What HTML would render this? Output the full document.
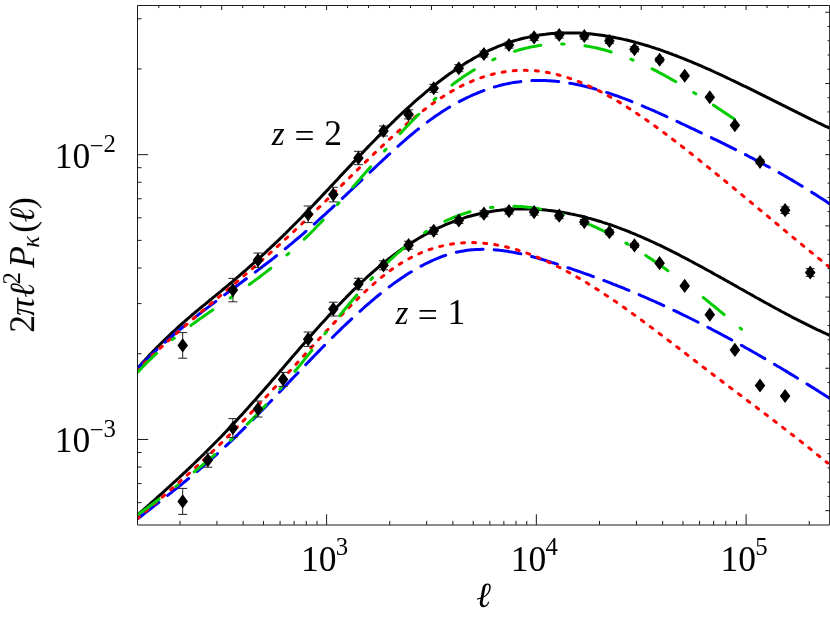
<!DOCTYPE html>
<html><head><meta charset="utf-8"><title>Convergence power spectrum</title>
<style>html,body{margin:0;padding:0;background:#fff;}svg{display:block;}</style>
</head><body>
<svg width="830" height="623" viewBox="0 0 830 623" role="img" aria-label="Convergence power spectrum 2 pi l^2 P_kappa(l) versus l for z = 1 and z = 2">
<rect width="830" height="623" fill="#fff"/>
<defs><clipPath id="c"><rect x="137.5" y="5.5" width="693.15" height="519.4"/></clipPath></defs>
<g clip-path="url(#c)">
<path d="M137.6,368.3 L139.6,366.1 L141.6,363.8 L143.6,361.6 L145.6,359.4 L147.6,357.3 L149.6,355.1 L151.6,353.0 L153.6,350.9 L155.6,348.9 L157.6,346.8 L159.6,344.8 L161.6,342.8 L163.6,340.9 L165.6,338.9 L167.6,337.0 L169.6,335.1 L171.6,333.2 L173.6,331.3 L175.6,329.5 L177.6,327.6 L179.6,325.8 L181.6,324.0 L183.6,322.3 L185.6,320.5 L187.6,318.8 L189.6,317.1 L191.6,315.4 L193.6,313.7 L195.6,312.0 L197.6,310.4 L199.6,308.7 L201.6,307.0 L203.6,305.4 L205.6,303.8 L207.6,302.1 L209.6,300.5 L211.6,298.9 L213.6,297.2 L215.6,295.6 L217.6,293.9 L219.6,292.3 L221.6,290.7 L223.6,289.0 L225.6,287.3 L227.6,285.7 L229.6,284.0 L231.6,282.3 L233.6,280.6 L235.6,278.9 L237.6,277.2 L239.6,275.5 L241.6,273.7 L243.6,272.0 L245.6,270.3 L247.6,268.5 L249.6,266.7 L251.6,265.0 L253.6,263.2 L255.6,261.4 L257.6,259.6 L259.6,257.8 L261.6,256.0 L263.6,254.1 L265.6,252.3 L267.6,250.4 L269.6,248.6 L271.6,246.7 L273.6,244.8 L275.6,242.9 L277.6,241.0 L279.6,239.1 L281.6,237.2 L283.6,235.2 L285.6,233.3 L287.6,231.3 L289.6,229.3 L291.6,227.3 L293.6,225.3 L295.6,223.3 L297.6,221.3 L299.6,219.2 L301.6,217.2 L303.6,215.1 L305.6,213.0 L307.6,211.0 L309.6,208.9 L311.6,206.8 L313.6,204.7 L315.6,202.6 L317.6,200.5 L319.6,198.4 L321.6,196.2 L323.6,194.1 L325.6,192.0 L327.6,189.9 L329.6,187.7 L331.6,185.6 L333.6,183.5 L335.6,181.3 L337.6,179.2 L339.6,177.0 L341.6,174.9 L343.6,172.8 L345.6,170.6 L347.6,168.5 L349.6,166.4 L351.6,164.2 L353.6,162.1 L355.6,160.0 L357.6,157.9 L359.6,155.8 L361.6,153.7 L363.6,151.6 L365.6,149.5 L367.6,147.4 L369.6,145.3 L371.6,143.3 L373.6,141.2 L375.6,139.2 L377.6,137.1 L379.6,135.1 L381.6,133.1 L383.6,131.1 L385.6,129.1 L387.6,127.1 L389.6,125.2 L391.6,123.2 L393.6,121.3 L395.6,119.3 L397.6,117.4 L399.6,115.5 L401.6,113.7 L403.6,111.8 L405.6,109.9 L407.6,108.1 L409.6,106.3 L411.6,104.5 L413.6,102.7 L415.6,100.9 L417.6,99.2 L419.6,97.5 L421.6,95.8 L423.6,94.1 L425.6,92.4 L427.6,90.7 L429.6,89.1 L431.6,87.5 L433.6,85.9 L435.6,84.3 L437.6,82.7 L439.6,81.2 L441.6,79.7 L443.6,78.2 L445.6,76.7 L447.6,75.2 L449.6,73.8 L451.6,72.4 L453.6,71.0 L455.6,69.6 L457.6,68.3 L459.6,67.0 L461.6,65.7 L463.6,64.4 L465.6,63.1 L467.6,61.9 L469.6,60.7 L471.6,59.6 L473.6,58.4 L475.6,57.3 L477.6,56.2 L479.6,55.1 L481.6,54.1 L483.6,53.1 L485.6,52.1 L487.6,51.1 L489.6,50.2 L491.6,49.3 L493.6,48.4 L495.6,47.6 L497.6,46.7 L499.6,45.9 L501.6,45.2 L503.6,44.4 L505.6,43.7 L507.6,43.0 L509.6,42.3 L511.6,41.7 L513.6,41.0 L515.6,40.4 L517.6,39.9 L519.6,39.3 L521.6,38.8 L523.6,38.3 L525.6,37.8 L527.6,37.4 L529.6,36.9 L531.6,36.5 L533.6,36.1 L535.6,35.8 L537.6,35.4 L539.6,35.1 L541.6,34.8 L543.6,34.5 L545.6,34.3 L547.6,34.0 L549.6,33.8 L551.6,33.6 L553.6,33.5 L555.6,33.3 L557.6,33.2 L559.6,33.1 L561.6,33.0 L563.6,32.9 L565.6,32.9 L567.6,32.9 L569.6,32.9 L571.6,32.9 L573.6,32.9 L575.6,33.0 L577.6,33.0 L579.6,33.1 L581.6,33.2 L583.6,33.3 L585.6,33.5 L587.6,33.7 L589.6,33.8 L591.6,34.0 L593.6,34.2 L595.6,34.5 L597.6,34.7 L599.6,35.0 L601.6,35.3 L603.6,35.6 L605.6,35.9 L607.6,36.2 L609.6,36.5 L611.6,36.9 L613.6,37.3 L615.6,37.7 L617.6,38.1 L619.6,38.5 L621.6,38.9 L623.6,39.4 L625.6,39.8 L627.6,40.3 L629.6,40.8 L631.6,41.3 L633.6,41.8 L635.6,42.4 L637.6,42.9 L639.6,43.5 L641.6,44.0 L643.6,44.6 L645.6,45.2 L647.6,45.8 L649.6,46.4 L651.6,47.1 L653.6,47.7 L655.6,48.4 L657.6,49.0 L659.6,49.7 L661.6,50.4 L663.6,51.1 L665.6,51.8 L667.6,52.5 L669.6,53.3 L671.6,54.0 L673.6,54.8 L675.6,55.5 L677.6,56.3 L679.6,57.1 L681.6,57.9 L683.6,58.7 L685.6,59.5 L687.6,60.3 L689.6,61.1 L691.6,61.9 L693.6,62.8 L695.6,63.6 L697.6,64.5 L699.6,65.3 L701.6,66.2 L703.6,67.1 L705.6,68.0 L707.6,68.8 L709.6,69.7 L711.6,70.6 L713.6,71.5 L715.6,72.5 L717.6,73.4 L719.6,74.3 L721.6,75.2 L723.6,76.2 L725.6,77.1 L727.6,78.1 L729.6,79.0 L731.6,80.0 L733.6,80.9 L735.6,81.9 L737.6,82.8 L739.6,83.8 L741.6,84.8 L743.6,85.8 L745.6,86.7 L747.6,87.7 L749.6,88.7 L751.6,89.7 L753.6,90.7 L755.6,91.7 L757.6,92.7 L759.6,93.7 L761.6,94.7 L763.6,95.7 L765.6,96.7 L767.6,97.7 L769.6,98.7 L771.6,99.7 L773.6,100.7 L775.6,101.7 L777.6,102.7 L779.6,103.7 L781.6,104.7 L783.6,105.7 L785.6,106.7 L787.6,107.7 L789.6,108.7 L791.6,109.7 L793.6,110.7 L795.6,111.7 L797.6,112.7 L799.6,113.7 L801.6,114.7 L803.6,115.6 L805.6,116.6 L807.6,117.6 L809.6,118.6 L811.6,119.6 L813.6,120.5 L815.6,121.5 L817.6,122.5 L819.6,123.4 L821.6,124.4 L823.6,125.4 L825.6,126.3 L827.6,127.2 L829.5,128.1" fill="none" stroke="#000" stroke-width="3" stroke-linejoin="round"/>
<path d="M137.6,514.8 L139.6,513.1 L141.6,511.3 L143.6,509.6 L145.6,507.8 L147.6,506.1 L149.6,504.3 L151.6,502.5 L153.6,500.8 L155.6,499.0 L157.6,497.2 L159.6,495.4 L161.6,493.6 L163.6,491.8 L165.6,490.0 L167.6,488.2 L169.6,486.4 L171.6,484.5 L173.6,482.7 L175.6,480.9 L177.6,479.0 L179.6,477.2 L181.6,475.3 L183.6,473.4 L185.6,471.6 L187.6,469.7 L189.6,467.8 L191.6,465.9 L193.6,464.0 L195.6,462.0 L197.6,460.1 L199.6,458.2 L201.6,456.2 L203.6,454.3 L205.6,452.3 L207.6,450.3 L209.6,448.3 L211.6,446.3 L213.6,444.3 L215.6,442.3 L217.6,440.3 L219.6,438.2 L221.6,436.2 L223.6,434.1 L225.6,432.0 L227.6,429.9 L229.6,427.8 L231.6,425.7 L233.6,423.6 L235.6,421.4 L237.6,419.3 L239.6,417.1 L241.6,414.9 L243.6,412.7 L245.6,410.5 L247.6,408.3 L249.6,406.1 L251.6,403.8 L253.6,401.6 L255.6,399.4 L257.6,397.1 L259.6,394.8 L261.6,392.6 L263.6,390.3 L265.6,388.0 L267.6,385.7 L269.6,383.4 L271.6,381.1 L273.6,378.8 L275.6,376.5 L277.6,374.1 L279.6,371.8 L281.6,369.5 L283.6,367.2 L285.6,364.8 L287.6,362.5 L289.6,360.2 L291.6,357.8 L293.6,355.5 L295.6,353.2 L297.6,350.9 L299.6,348.6 L301.6,346.3 L303.6,344.0 L305.6,341.7 L307.6,339.4 L309.6,337.1 L311.6,334.8 L313.6,332.5 L315.6,330.3 L317.6,328.0 L319.6,325.8 L321.6,323.6 L323.6,321.4 L325.6,319.2 L327.6,317.0 L329.6,314.8 L331.6,312.7 L333.6,310.5 L335.6,308.4 L337.6,306.3 L339.6,304.2 L341.6,302.1 L343.6,300.0 L345.6,298.0 L347.6,295.9 L349.6,293.9 L351.6,291.9 L353.6,289.9 L355.6,288.0 L357.6,286.0 L359.6,284.1 L361.6,282.2 L363.6,280.4 L365.6,278.5 L367.6,276.7 L369.6,274.9 L371.6,273.1 L373.6,271.3 L375.6,269.6 L377.6,267.9 L379.6,266.2 L381.6,264.5 L383.6,262.9 L385.6,261.2 L387.6,259.7 L389.6,258.1 L391.6,256.6 L393.6,255.1 L395.6,253.6 L397.6,252.1 L399.6,250.7 L401.6,249.3 L403.6,247.9 L405.6,246.6 L407.6,245.2 L409.6,243.9 L411.6,242.7 L413.6,241.4 L415.6,240.2 L417.6,239.0 L419.6,237.8 L421.6,236.6 L423.6,235.5 L425.6,234.4 L427.6,233.3 L429.6,232.3 L431.6,231.3 L433.6,230.3 L435.6,229.3 L437.6,228.3 L439.6,227.4 L441.6,226.5 L443.6,225.6 L445.6,224.7 L447.6,223.9 L449.6,223.1 L451.6,222.3 L453.6,221.5 L455.6,220.8 L457.6,220.1 L459.6,219.4 L461.6,218.7 L463.6,218.1 L465.6,217.4 L467.6,216.8 L469.6,216.3 L471.6,215.7 L473.6,215.2 L475.6,214.7 L477.6,214.2 L479.6,213.7 L481.6,213.3 L483.6,212.9 L485.6,212.5 L487.6,212.1 L489.6,211.7 L491.6,211.4 L493.6,211.1 L495.6,210.8 L497.6,210.5 L499.6,210.3 L501.6,210.0 L503.6,209.8 L505.6,209.7 L507.6,209.5 L509.6,209.3 L511.6,209.2 L513.6,209.1 L515.6,209.0 L517.6,209.0 L519.6,208.9 L521.6,208.9 L523.6,208.9 L525.6,208.9 L527.6,208.9 L529.6,209.0 L531.6,209.1 L533.6,209.1 L535.6,209.2 L537.6,209.4 L539.6,209.5 L541.6,209.7 L543.6,209.8 L545.6,210.0 L547.6,210.3 L549.6,210.5 L551.6,210.7 L553.6,211.0 L555.6,211.3 L557.6,211.6 L559.6,211.9 L561.6,212.2 L563.6,212.5 L565.6,212.9 L567.6,213.3 L569.6,213.7 L571.6,214.1 L573.6,214.5 L575.6,214.9 L577.6,215.4 L579.6,215.8 L581.6,216.3 L583.6,216.8 L585.6,217.3 L587.6,217.9 L589.6,218.4 L591.6,219.0 L593.6,219.5 L595.6,220.1 L597.6,220.7 L599.6,221.3 L601.6,221.9 L603.6,222.6 L605.6,223.2 L607.6,223.9 L609.6,224.5 L611.6,225.2 L613.6,225.9 L615.6,226.6 L617.6,227.4 L619.6,228.1 L621.6,228.9 L623.6,229.6 L625.6,230.4 L627.6,231.2 L629.6,232.0 L631.6,232.8 L633.6,233.6 L635.6,234.4 L637.6,235.3 L639.6,236.1 L641.6,237.0 L643.6,237.9 L645.6,238.8 L647.6,239.7 L649.6,240.6 L651.6,241.5 L653.6,242.4 L655.6,243.3 L657.6,244.3 L659.6,245.2 L661.6,246.2 L663.6,247.2 L665.6,248.2 L667.6,249.1 L669.6,250.1 L671.6,251.1 L673.6,252.2 L675.6,253.2 L677.6,254.2 L679.6,255.2 L681.6,256.3 L683.6,257.3 L685.6,258.4 L687.6,259.4 L689.6,260.5 L691.6,261.5 L693.6,262.6 L695.6,263.7 L697.6,264.8 L699.6,265.9 L701.6,266.9 L703.6,268.0 L705.6,269.1 L707.6,270.2 L709.6,271.3 L711.6,272.4 L713.6,273.6 L715.6,274.7 L717.6,275.8 L719.6,276.9 L721.6,278.0 L723.6,279.1 L725.6,280.3 L727.6,281.4 L729.6,282.5 L731.6,283.6 L733.6,284.8 L735.6,285.9 L737.6,287.0 L739.6,288.2 L741.6,289.3 L743.6,290.4 L745.6,291.5 L747.6,292.7 L749.6,293.8 L751.6,294.9 L753.6,296.0 L755.6,297.2 L757.6,298.3 L759.6,299.4 L761.6,300.5 L763.6,301.6 L765.6,302.7 L767.6,303.8 L769.6,304.9 L771.6,306.0 L773.6,307.1 L775.6,308.2 L777.6,309.3 L779.6,310.4 L781.6,311.5 L783.6,312.5 L785.6,313.6 L787.6,314.7 L789.6,315.7 L791.6,316.8 L793.6,317.8 L795.6,318.8 L797.6,319.9 L799.6,320.9 L801.6,321.9 L803.6,322.9 L805.6,323.9 L807.6,324.9 L809.6,325.9 L811.6,326.9 L813.6,327.9 L815.6,328.8 L817.6,329.8 L819.6,330.7 L821.6,331.7 L823.6,332.6 L825.6,333.5 L827.6,334.4 L829.5,335.3" fill="none" stroke="#000" stroke-width="3" stroke-linejoin="round"/>
<path d="M137.6,368.5 L139.6,366.5 L141.6,364.4 L143.6,362.4 L145.6,360.5 L147.6,358.5 L149.6,356.6 L151.6,354.6 L153.6,352.8 L155.6,350.9 L157.6,349.0 L159.6,347.2 L161.6,345.4 L163.6,343.6 L165.6,341.8 L167.6,340.0 L169.6,338.3 L171.6,336.6 L173.6,334.8 L175.6,333.1 L177.6,331.5 L179.6,329.8 L181.6,328.1 L183.6,326.5 L185.6,324.9 L187.6,323.2 L189.6,321.6 L191.6,320.0 L193.6,318.4 L195.6,316.9 L197.6,315.3 L199.6,313.7 L201.6,312.2 L203.6,310.6 L205.6,309.1 L207.6,307.6 L209.6,306.1 L211.6,304.6 L213.6,303.1 L215.6,301.6 L217.6,300.1 L219.6,298.6 L221.6,297.1 L223.6,295.6 L225.6,294.1 L227.6,292.6 L229.6,291.1 L231.6,289.7 L233.6,288.2 L235.6,286.7 L237.6,285.2 L239.6,283.8 L241.6,282.3 L243.6,280.8 L245.6,279.3 L247.6,277.8 L249.6,276.4 L251.6,274.9 L253.6,273.4 L255.6,271.9 L257.6,270.4 L259.6,268.9 L261.6,267.3 L263.6,265.8 L265.6,264.3 L267.6,262.8 L269.6,261.2 L271.6,259.7 L273.6,258.1 L275.6,256.5 L277.6,254.9 L279.6,253.4 L281.6,251.8 L283.6,250.1 L285.6,248.5 L287.6,246.9 L289.6,245.2 L291.6,243.6 L293.6,241.9 L295.6,240.2 L297.6,238.5 L299.6,236.8 L301.6,235.1 L303.6,233.4 L305.6,231.6 L307.6,229.9 L309.6,228.1 L311.6,226.3 L313.6,224.6 L315.6,222.8 L317.6,221.0 L319.6,219.2 L321.6,217.4 L323.6,215.6 L325.6,213.8 L327.6,211.9 L329.6,210.1 L331.6,208.3 L333.6,206.4 L335.6,204.6 L337.6,202.7 L339.6,200.9 L341.6,199.0 L343.6,197.1 L345.6,195.3 L347.6,193.4 L349.6,191.5 L351.6,189.6 L353.6,187.7 L355.6,185.8 L357.6,184.0 L359.6,182.1 L361.6,180.2 L363.6,178.3 L365.6,176.4 L367.6,174.5 L369.6,172.6 L371.6,170.7 L373.6,168.8 L375.6,166.9 L377.6,165.0 L379.6,163.2 L381.6,161.3 L383.6,159.4 L385.6,157.6 L387.6,155.7 L389.6,153.9 L391.6,152.1 L393.6,150.2 L395.6,148.4 L397.6,146.6 L399.6,144.9 L401.6,143.1 L403.6,141.3 L405.6,139.6 L407.6,137.9 L409.6,136.2 L411.6,134.5 L413.6,132.9 L415.6,131.2 L417.6,129.6 L419.6,128.0 L421.6,126.4 L423.6,124.9 L425.6,123.4 L427.6,121.9 L429.6,120.4 L431.6,118.9 L433.6,117.5 L435.6,116.1 L437.6,114.8 L439.6,113.4 L441.6,112.1 L443.6,110.8 L445.6,109.5 L447.6,108.3 L449.6,107.1 L451.6,105.9 L453.6,104.8 L455.6,103.6 L457.6,102.5 L459.6,101.4 L461.6,100.4 L463.6,99.4 L465.6,98.4 L467.6,97.4 L469.6,96.5 L471.6,95.5 L473.6,94.7 L475.6,93.8 L477.6,93.0 L479.6,92.2 L481.6,91.4 L483.6,90.6 L485.6,89.9 L487.6,89.2 L489.6,88.5 L491.6,87.9 L493.6,87.2 L495.6,86.6 L497.6,86.1 L499.6,85.5 L501.6,85.0 L503.6,84.5 L505.6,84.1 L507.6,83.7 L509.6,83.3 L511.6,82.9 L513.6,82.5 L515.6,82.2 L517.6,81.9 L519.6,81.7 L521.6,81.4 L523.6,81.2 L525.6,81.0 L527.6,80.9 L529.6,80.7 L531.6,80.6 L533.6,80.6 L535.6,80.5 L537.6,80.5 L539.6,80.5 L541.6,80.5 L543.6,80.5 L545.6,80.6 L547.6,80.7 L549.6,80.8 L551.6,81.0 L553.6,81.1 L555.6,81.3 L557.6,81.5 L559.6,81.7 L561.6,82.0 L563.6,82.2 L565.6,82.5 L567.6,82.8 L569.6,83.2 L571.6,83.5 L573.6,83.9 L575.6,84.3 L577.6,84.7 L579.6,85.1 L581.6,85.5 L583.6,86.0 L585.6,86.5 L587.6,87.0 L589.6,87.5 L591.6,88.0 L593.6,88.5 L595.6,89.1 L597.6,89.7 L599.6,90.3 L601.6,90.9 L603.6,91.5 L605.6,92.1 L607.6,92.8 L609.6,93.4 L611.6,94.1 L613.6,94.8 L615.6,95.5 L617.6,96.2 L619.6,96.9 L621.6,97.7 L623.6,98.4 L625.6,99.2 L627.6,99.9 L629.6,100.7 L631.6,101.5 L633.6,102.3 L635.6,103.1 L637.6,103.9 L639.6,104.8 L641.6,105.6 L643.6,106.4 L645.6,107.3 L647.6,108.1 L649.6,109.0 L651.6,109.9 L653.6,110.7 L655.6,111.6 L657.6,112.5 L659.6,113.4 L661.6,114.3 L663.6,115.2 L665.6,116.1 L667.6,117.1 L669.6,118.0 L671.6,118.9 L673.6,119.8 L675.6,120.8 L677.6,121.7 L679.6,122.6 L681.6,123.6 L683.6,124.5 L685.6,125.4 L687.6,126.4 L689.6,127.3 L691.6,128.3 L693.6,129.2 L695.6,130.2 L697.6,131.1 L699.6,132.1 L701.6,133.0 L703.6,134.0 L705.6,134.9 L707.6,135.9 L709.6,136.8 L711.6,137.8 L713.6,138.8 L715.6,139.7 L717.6,140.7 L719.6,141.7 L721.6,142.7 L723.6,143.6 L725.6,144.6 L727.6,145.6 L729.6,146.6 L731.6,147.6 L733.6,148.6 L735.6,149.6 L737.6,150.6 L739.6,151.6 L741.6,152.6 L743.6,153.7 L745.6,154.7 L747.6,155.7 L749.6,156.8 L751.6,157.8 L753.6,158.9 L755.6,159.9 L757.6,161.0 L759.6,162.0 L761.6,163.1 L763.6,164.2 L765.6,165.3 L767.6,166.3 L769.6,167.4 L771.6,168.5 L773.6,169.6 L775.6,170.8 L777.6,171.9 L779.6,173.0 L781.6,174.1 L783.6,175.3 L785.6,176.4 L787.6,177.6 L789.6,178.8 L791.6,179.9 L793.6,181.1 L795.6,182.3 L797.6,183.5 L799.6,184.7 L801.6,185.9 L803.6,187.1 L805.6,188.4 L807.6,189.6 L809.6,190.8 L811.6,192.1 L813.6,193.4 L815.6,194.6 L817.6,195.9 L819.6,197.2 L821.6,198.5 L823.6,199.8 L825.6,201.1 L827.6,202.5 L829.5,203.7" fill="none" stroke="#0000ff" stroke-width="3" stroke-linejoin="round" stroke-dasharray="27 11.07" stroke-linecap="round"/>
<path d="M137.6,518.8 L139.6,517.2 L141.6,515.7 L143.6,514.2 L145.6,512.6 L147.6,511.1 L149.6,509.5 L151.6,508.0 L153.6,506.4 L155.6,504.9 L157.6,503.3 L159.6,501.8 L161.6,500.2 L163.6,498.6 L165.6,497.1 L167.6,495.5 L169.6,493.9 L171.6,492.3 L173.6,490.7 L175.6,489.1 L177.6,487.5 L179.6,485.9 L181.6,484.3 L183.6,482.7 L185.6,481.0 L187.6,479.4 L189.6,477.8 L191.6,476.1 L193.6,474.4 L195.6,472.8 L197.6,471.1 L199.6,469.4 L201.6,467.7 L203.6,465.9 L205.6,464.2 L207.6,462.5 L209.6,460.7 L211.6,459.0 L213.6,457.2 L215.6,455.4 L217.6,453.6 L219.6,451.8 L221.6,449.9 L223.6,448.1 L225.6,446.2 L227.6,444.4 L229.6,442.5 L231.6,440.6 L233.6,438.7 L235.6,436.7 L237.6,434.8 L239.6,432.8 L241.6,430.9 L243.6,428.9 L245.6,426.9 L247.6,424.9 L249.6,422.9 L251.6,420.9 L253.6,418.9 L255.6,416.9 L257.6,414.8 L259.6,412.8 L261.6,410.7 L263.6,408.7 L265.6,406.6 L267.6,404.5 L269.6,402.5 L271.6,400.4 L273.6,398.3 L275.6,396.2 L277.6,394.1 L279.6,392.0 L281.6,389.9 L283.6,387.8 L285.6,385.7 L287.6,383.6 L289.6,381.5 L291.6,379.4 L293.6,377.3 L295.6,375.2 L297.6,373.2 L299.6,371.1 L301.6,369.0 L303.6,366.9 L305.6,364.8 L307.6,362.7 L309.6,360.6 L311.6,358.6 L313.6,356.5 L315.6,354.5 L317.6,352.4 L319.6,350.4 L321.6,348.3 L323.6,346.3 L325.6,344.3 L327.6,342.2 L329.6,340.2 L331.6,338.2 L333.6,336.3 L335.6,334.3 L337.6,332.3 L339.6,330.4 L341.6,328.4 L343.6,326.5 L345.6,324.6 L347.6,322.7 L349.6,320.8 L351.6,318.9 L353.6,317.1 L355.6,315.2 L357.6,313.4 L359.6,311.6 L361.6,309.8 L363.6,308.0 L365.6,306.2 L367.6,304.5 L369.6,302.8 L371.6,301.0 L373.6,299.4 L375.6,297.7 L377.6,296.0 L379.6,294.4 L381.6,292.8 L383.6,291.2 L385.6,289.7 L387.6,288.1 L389.6,286.6 L391.6,285.1 L393.6,283.6 L395.6,282.2 L397.6,280.8 L399.6,279.4 L401.6,278.0 L403.6,276.7 L405.6,275.3 L407.6,274.1 L409.6,272.8 L411.6,271.6 L413.6,270.4 L415.6,269.2 L417.6,268.0 L419.6,266.9 L421.6,265.8 L423.6,264.8 L425.6,263.7 L427.6,262.8 L429.6,261.8 L431.6,260.9 L433.6,260.0 L435.6,259.1 L437.6,258.3 L439.6,257.5 L441.6,256.7 L443.6,256.0 L445.6,255.3 L447.6,254.7 L449.6,254.1 L451.6,253.5 L453.6,253.0 L455.6,252.5 L457.6,252.0 L459.6,251.6 L461.6,251.2 L463.6,250.9 L465.6,250.6 L467.6,250.3 L469.6,250.0 L471.6,249.8 L473.6,249.7 L475.6,249.5 L477.6,249.4 L479.6,249.4 L481.6,249.3 L483.6,249.3 L485.6,249.3 L487.6,249.4 L489.6,249.5 L491.6,249.6 L493.6,249.7 L495.6,249.9 L497.6,250.0 L499.6,250.3 L501.6,250.5 L503.6,250.8 L505.6,251.0 L507.6,251.3 L509.6,251.7 L511.6,252.0 L513.6,252.4 L515.6,252.8 L517.6,253.2 L519.6,253.6 L521.6,254.0 L523.6,254.5 L525.6,255.0 L527.6,255.5 L529.6,256.0 L531.6,256.5 L533.6,257.0 L535.6,257.6 L537.6,258.1 L539.6,258.7 L541.6,259.3 L543.6,259.9 L545.6,260.5 L547.6,261.1 L549.6,261.7 L551.6,262.4 L553.6,263.0 L555.6,263.6 L557.6,264.3 L559.6,264.9 L561.6,265.6 L563.6,266.2 L565.6,266.9 L567.6,267.6 L569.6,268.2 L571.6,268.9 L573.6,269.6 L575.6,270.3 L577.6,271.0 L579.6,271.7 L581.6,272.4 L583.6,273.1 L585.6,273.8 L587.6,274.5 L589.6,275.2 L591.6,276.0 L593.6,276.7 L595.6,277.4 L597.6,278.2 L599.6,278.9 L601.6,279.6 L603.6,280.4 L605.6,281.2 L607.6,281.9 L609.6,282.7 L611.6,283.5 L613.6,284.3 L615.6,285.0 L617.6,285.8 L619.6,286.6 L621.6,287.4 L623.6,288.2 L625.6,289.1 L627.6,289.9 L629.6,290.7 L631.6,291.5 L633.6,292.4 L635.6,293.2 L637.6,294.0 L639.6,294.9 L641.6,295.8 L643.6,296.6 L645.6,297.5 L647.6,298.4 L649.6,299.3 L651.6,300.1 L653.6,301.0 L655.6,301.9 L657.6,302.8 L659.6,303.7 L661.6,304.7 L663.6,305.6 L665.6,306.5 L667.6,307.4 L669.6,308.4 L671.6,309.3 L673.6,310.3 L675.6,311.2 L677.6,312.2 L679.6,313.1 L681.6,314.1 L683.6,315.1 L685.6,316.0 L687.6,317.0 L689.6,318.0 L691.6,319.0 L693.6,320.0 L695.6,321.0 L697.6,322.0 L699.6,323.0 L701.6,324.1 L703.6,325.1 L705.6,326.1 L707.6,327.1 L709.6,328.2 L711.6,329.2 L713.6,330.3 L715.6,331.3 L717.6,332.4 L719.6,333.4 L721.6,334.5 L723.6,335.6 L725.6,336.7 L727.6,337.7 L729.6,338.8 L731.6,339.9 L733.6,341.0 L735.6,342.1 L737.6,343.2 L739.6,344.3 L741.6,345.4 L743.6,346.5 L745.6,347.7 L747.6,348.8 L749.6,349.9 L751.6,351.0 L753.6,352.2 L755.6,353.3 L757.6,354.5 L759.6,355.6 L761.6,356.8 L763.6,357.9 L765.6,359.1 L767.6,360.3 L769.6,361.4 L771.6,362.6 L773.6,363.8 L775.6,365.0 L777.6,366.2 L779.6,367.3 L781.6,368.5 L783.6,369.7 L785.6,370.9 L787.6,372.1 L789.6,373.4 L791.6,374.6 L793.6,375.8 L795.6,377.0 L797.6,378.2 L799.6,379.4 L801.6,380.7 L803.6,381.9 L805.6,383.2 L807.6,384.4 L809.6,385.6 L811.6,386.9 L813.6,388.1 L815.6,389.4 L817.6,390.6 L819.6,391.9 L821.6,393.2 L823.6,394.4 L825.6,395.7 L827.6,397.0 L829.5,398.2" fill="none" stroke="#0000ff" stroke-width="3" stroke-linejoin="round" stroke-dasharray="27 11.07" stroke-linecap="round"/>
<path d="M137.6,369.9 L139.6,367.9 L141.6,365.9 L143.6,364.0 L145.6,362.0 L147.6,360.1 L149.6,358.2 L151.6,356.3 L153.6,354.4 L155.6,352.5 L157.6,350.6 L159.6,348.7 L161.6,346.9 L163.6,345.1 L165.6,343.2 L167.6,341.4 L169.6,339.6 L171.6,337.8 L173.6,336.0 L175.6,334.2 L177.6,332.4 L179.6,330.7 L181.6,328.9 L183.6,327.2 L185.6,325.4 L187.6,323.7 L189.6,321.9 L191.6,320.2 L193.6,318.5 L195.6,316.8 L197.6,315.1 L199.6,313.4 L201.6,311.7 L203.6,310.0 L205.6,308.3 L207.6,306.6 L209.6,304.9 L211.6,303.2 L213.6,301.5 L215.6,299.8 L217.6,298.1 L219.6,296.4 L221.6,294.7 L223.6,293.1 L225.6,291.4 L227.6,289.7 L229.6,288.0 L231.6,286.3 L233.6,284.6 L235.6,282.9 L237.6,281.2 L239.6,279.5 L241.6,277.8 L243.6,276.1 L245.6,274.4 L247.6,272.7 L249.6,271.0 L251.6,269.3 L253.6,267.5 L255.6,265.8 L257.6,264.1 L259.6,262.3 L261.6,260.6 L263.6,258.8 L265.6,257.0 L267.6,255.3 L269.6,253.5 L271.6,251.7 L273.6,249.9 L275.6,248.1 L277.6,246.3 L279.6,244.5 L281.6,242.6 L283.6,240.8 L285.6,239.0 L287.6,237.1 L289.6,235.3 L291.6,233.4 L293.6,231.6 L295.6,229.7 L297.6,227.8 L299.6,226.0 L301.6,224.1 L303.6,222.2 L305.6,220.3 L307.6,218.4 L309.6,216.5 L311.6,214.6 L313.6,212.7 L315.6,210.8 L317.6,208.8 L319.6,206.9 L321.6,205.0 L323.6,203.0 L325.6,201.1 L327.6,199.1 L329.6,197.2 L331.6,195.2 L333.6,193.3 L335.6,191.3 L337.6,189.3 L339.6,187.4 L341.6,185.4 L343.6,183.4 L345.6,181.5 L347.6,179.5 L349.6,177.5 L351.6,175.6 L353.6,173.6 L355.6,171.6 L357.6,169.7 L359.6,167.7 L361.6,165.8 L363.6,163.8 L365.6,161.9 L367.6,160.0 L369.6,158.0 L371.6,156.1 L373.6,154.2 L375.6,152.3 L377.6,150.4 L379.6,148.5 L381.6,146.6 L383.6,144.7 L385.6,142.9 L387.6,141.0 L389.6,139.2 L391.6,137.3 L393.6,135.5 L395.6,133.7 L397.6,131.9 L399.6,130.2 L401.6,128.4 L403.6,126.7 L405.6,124.9 L407.6,123.2 L409.6,121.5 L411.6,119.9 L413.6,118.2 L415.6,116.6 L417.6,115.0 L419.6,113.4 L421.6,111.8 L423.6,110.3 L425.6,108.8 L427.6,107.3 L429.6,105.8 L431.6,104.3 L433.6,102.9 L435.6,101.5 L437.6,100.1 L439.6,98.8 L441.6,97.5 L443.6,96.2 L445.6,94.9 L447.6,93.7 L449.6,92.5 L451.6,91.3 L453.6,90.2 L455.6,89.1 L457.6,88.0 L459.6,86.9 L461.6,85.9 L463.6,84.9 L465.6,84.0 L467.6,83.1 L469.6,82.2 L471.6,81.3 L473.6,80.5 L475.6,79.7 L477.6,79.0 L479.6,78.2 L481.6,77.5 L483.6,76.9 L485.6,76.2 L487.6,75.6 L489.6,75.1 L491.6,74.5 L493.6,74.0 L495.6,73.6 L497.6,73.1 L499.6,72.7 L501.6,72.3 L503.6,72.0 L505.6,71.7 L507.6,71.4 L509.6,71.2 L511.6,70.9 L513.6,70.8 L515.6,70.6 L517.6,70.5 L519.6,70.4 L521.6,70.3 L523.6,70.3 L525.6,70.3 L527.6,70.4 L529.6,70.4 L531.6,70.5 L533.6,70.7 L535.6,70.8 L537.6,71.0 L539.6,71.3 L541.6,71.5 L543.6,71.8 L545.6,72.1 L547.6,72.5 L549.6,72.9 L551.6,73.3 L553.6,73.7 L555.6,74.2 L557.6,74.7 L559.6,75.3 L561.6,75.8 L563.6,76.4 L565.6,77.0 L567.6,77.6 L569.6,78.3 L571.6,79.0 L573.6,79.7 L575.6,80.5 L577.6,81.2 L579.6,82.0 L581.6,82.8 L583.6,83.7 L585.6,84.5 L587.6,85.4 L589.6,86.3 L591.6,87.2 L593.6,88.2 L595.6,89.2 L597.6,90.2 L599.6,91.2 L601.6,92.2 L603.6,93.3 L605.6,94.4 L607.6,95.4 L609.6,96.6 L611.6,97.7 L613.6,98.8 L615.6,100.0 L617.6,101.2 L619.6,102.4 L621.6,103.6 L623.6,104.9 L625.6,106.1 L627.6,107.4 L629.6,108.7 L631.6,110.0 L633.6,111.3 L635.6,112.6 L637.6,113.9 L639.6,115.3 L641.6,116.7 L643.6,118.0 L645.6,119.4 L647.6,120.8 L649.6,122.2 L651.6,123.7 L653.6,125.1 L655.6,126.6 L657.6,128.0 L659.6,129.5 L661.6,131.0 L663.6,132.5 L665.6,133.9 L667.6,135.5 L669.6,137.0 L671.6,138.5 L673.6,140.0 L675.6,141.5 L677.6,143.1 L679.6,144.6 L681.6,146.2 L683.6,147.7 L685.6,149.3 L687.6,150.9 L689.6,152.4 L691.6,154.0 L693.6,155.6 L695.6,157.2 L697.6,158.8 L699.6,160.4 L701.6,162.0 L703.6,163.6 L705.6,165.2 L707.6,166.8 L709.6,168.4 L711.6,170.0 L713.6,171.6 L715.6,173.3 L717.6,174.9 L719.6,176.5 L721.6,178.2 L723.6,179.8 L725.6,181.4 L727.6,183.1 L729.6,184.7 L731.6,186.4 L733.6,188.0 L735.6,189.7 L737.6,191.3 L739.6,193.0 L741.6,194.6 L743.6,196.3 L745.6,197.9 L747.6,199.6 L749.6,201.2 L751.6,202.9 L753.6,204.6 L755.6,206.2 L757.6,207.9 L759.6,209.6 L761.6,211.2 L763.6,212.9 L765.6,214.6 L767.6,216.2 L769.6,217.9 L771.6,219.6 L773.6,221.2 L775.6,222.9 L777.6,224.5 L779.6,226.2 L781.6,227.9 L783.6,229.5 L785.6,231.2 L787.6,232.9 L789.6,234.5 L791.6,236.2 L793.6,237.8 L795.6,239.5 L797.6,241.1 L799.6,242.8 L801.6,244.4 L803.6,246.1 L805.6,247.7 L807.6,249.4 L809.6,251.0 L811.6,252.6 L813.6,254.3 L815.6,255.9 L817.6,257.5 L819.6,259.1 L821.6,260.8 L823.6,262.4 L825.6,264.0 L827.6,265.6 L828.7,266.5" fill="none" stroke="#ff0000" stroke-width="3" stroke-linejoin="round" stroke-dasharray="3 8.09" stroke-linecap="round" stroke-dashoffset="2.2"/>
<path d="M137.6,518.3 L139.6,516.6 L141.6,514.9 L143.6,513.2 L145.6,511.5 L147.6,509.7 L149.6,508.0 L151.6,506.3 L153.6,504.6 L155.6,502.9 L157.6,501.2 L159.6,499.4 L161.6,497.7 L163.6,496.0 L165.6,494.2 L167.6,492.5 L169.6,490.7 L171.6,489.0 L173.6,487.2 L175.6,485.5 L177.6,483.7 L179.6,481.9 L181.6,480.1 L183.6,478.3 L185.6,476.5 L187.6,474.7 L189.6,472.9 L191.6,471.1 L193.6,469.3 L195.6,467.4 L197.6,465.6 L199.6,463.8 L201.6,461.9 L203.6,460.0 L205.6,458.1 L207.6,456.3 L209.6,454.4 L211.6,452.5 L213.6,450.5 L215.6,448.6 L217.6,446.7 L219.6,444.7 L221.6,442.8 L223.6,440.8 L225.6,438.8 L227.6,436.8 L229.6,434.8 L231.6,432.8 L233.6,430.8 L235.6,428.8 L237.6,426.7 L239.6,424.7 L241.6,422.6 L243.6,420.6 L245.6,418.5 L247.6,416.4 L249.6,414.3 L251.6,412.2 L253.6,410.1 L255.6,408.0 L257.6,405.9 L259.6,403.8 L261.6,401.6 L263.6,399.5 L265.6,397.3 L267.6,395.2 L269.6,393.0 L271.6,390.9 L273.6,388.7 L275.6,386.6 L277.6,384.4 L279.6,382.2 L281.6,380.0 L283.6,377.8 L285.6,375.7 L287.6,373.5 L289.6,371.3 L291.6,369.1 L293.6,366.9 L295.6,364.7 L297.6,362.5 L299.6,360.3 L301.6,358.1 L303.6,355.9 L305.6,353.7 L307.6,351.5 L309.6,349.3 L311.6,347.1 L313.6,345.0 L315.6,342.8 L317.6,340.6 L319.6,338.4 L321.6,336.3 L323.6,334.1 L325.6,331.9 L327.6,329.8 L329.6,327.7 L331.6,325.5 L333.6,323.4 L335.6,321.3 L337.6,319.2 L339.6,317.1 L341.6,315.0 L343.6,313.0 L345.6,310.9 L347.6,308.9 L349.6,306.8 L351.6,304.8 L353.6,302.8 L355.6,300.9 L357.6,298.9 L359.6,296.9 L361.6,295.0 L363.6,293.1 L365.6,291.2 L367.6,289.4 L369.6,287.6 L371.6,285.8 L373.6,284.0 L375.6,282.2 L377.6,280.5 L379.6,278.9 L381.6,277.2 L383.6,275.6 L385.6,274.0 L387.6,272.5 L389.6,271.0 L391.6,269.5 L393.6,268.1 L395.6,266.8 L397.6,265.4 L399.6,264.1 L401.6,262.9 L403.6,261.7 L405.6,260.5 L407.6,259.4 L409.6,258.3 L411.6,257.3 L413.6,256.2 L415.6,255.3 L417.6,254.3 L419.6,253.5 L421.6,252.6 L423.6,251.8 L425.6,251.0 L427.6,250.3 L429.6,249.5 L431.6,248.9 L433.6,248.2 L435.6,247.6 L437.6,247.1 L439.6,246.5 L441.6,246.1 L443.6,245.6 L445.6,245.2 L447.6,244.8 L449.6,244.4 L451.6,244.1 L453.6,243.8 L455.6,243.5 L457.6,243.3 L459.6,243.1 L461.6,243.0 L463.6,242.8 L465.6,242.7 L467.6,242.7 L469.6,242.6 L471.6,242.6 L473.6,242.6 L475.6,242.7 L477.6,242.8 L479.6,242.9 L481.6,243.0 L483.6,243.2 L485.6,243.4 L487.6,243.6 L489.6,243.8 L491.6,244.1 L493.6,244.4 L495.6,244.7 L497.6,245.1 L499.6,245.5 L501.6,245.9 L503.6,246.3 L505.6,246.8 L507.6,247.3 L509.6,247.8 L511.6,248.3 L513.6,248.9 L515.6,249.4 L517.6,250.0 L519.6,250.7 L521.6,251.3 L523.6,252.0 L525.6,252.7 L527.6,253.4 L529.6,254.1 L531.6,254.9 L533.6,255.7 L535.6,256.5 L537.6,257.3 L539.6,258.1 L541.6,259.0 L543.6,259.8 L545.6,260.7 L547.6,261.6 L549.6,262.6 L551.6,263.5 L553.6,264.5 L555.6,265.5 L557.6,266.5 L559.6,267.5 L561.6,268.5 L563.6,269.6 L565.6,270.7 L567.6,271.7 L569.6,272.8 L571.6,273.9 L573.6,275.1 L575.6,276.2 L577.6,277.4 L579.6,278.5 L581.6,279.7 L583.6,280.9 L585.6,282.1 L587.6,283.3 L589.6,284.6 L591.6,285.8 L593.6,287.1 L595.6,288.4 L597.6,289.6 L599.6,290.9 L601.6,292.2 L603.6,293.5 L605.6,294.9 L607.6,296.2 L609.6,297.6 L611.6,298.9 L613.6,300.3 L615.6,301.6 L617.6,303.0 L619.6,304.4 L621.6,305.8 L623.6,307.2 L625.6,308.6 L627.6,310.1 L629.6,311.5 L631.6,312.9 L633.6,314.4 L635.6,315.8 L637.6,317.3 L639.6,318.7 L641.6,320.2 L643.6,321.7 L645.6,323.2 L647.6,324.7 L649.6,326.1 L651.6,327.6 L653.6,329.1 L655.6,330.6 L657.6,332.2 L659.6,333.7 L661.6,335.2 L663.6,336.7 L665.6,338.2 L667.6,339.7 L669.6,341.3 L671.6,342.8 L673.6,344.3 L675.6,345.9 L677.6,347.4 L679.6,348.9 L681.6,350.5 L683.6,352.0 L685.6,353.5 L687.6,355.1 L689.6,356.6 L691.6,358.2 L693.6,359.7 L695.6,361.2 L697.6,362.8 L699.6,364.3 L701.6,365.8 L703.6,367.4 L705.6,368.9 L707.6,370.4 L709.6,371.9 L711.6,373.5 L713.6,375.0 L715.6,376.5 L717.6,378.0 L719.6,379.5 L721.6,381.0 L723.6,382.6 L725.6,384.1 L727.6,385.6 L729.6,387.1 L731.6,388.6 L733.6,390.1 L735.6,391.6 L737.6,393.1 L739.6,394.6 L741.6,396.1 L743.6,397.6 L745.6,399.2 L747.6,400.7 L749.6,402.2 L751.6,403.7 L753.6,405.2 L755.6,406.7 L757.6,408.2 L759.6,409.7 L761.6,411.2 L763.6,412.8 L765.6,414.3 L767.6,415.8 L769.6,417.3 L771.6,418.9 L773.6,420.4 L775.6,421.9 L777.6,423.5 L779.6,425.0 L781.6,426.5 L783.6,428.1 L785.6,429.6 L787.6,431.2 L789.6,432.7 L791.6,434.3 L793.6,435.8 L795.6,437.4 L797.6,438.9 L799.6,440.5 L801.6,442.1 L803.6,443.7 L805.6,445.3 L807.6,446.8 L809.6,448.4 L811.6,450.0 L813.6,451.6 L815.6,453.2 L817.6,454.9 L819.6,456.5 L821.6,458.1 L823.6,459.7 L825.6,461.4 L827.6,463.0" fill="none" stroke="#ff0000" stroke-width="3" stroke-linejoin="round" stroke-dasharray="3 8.09" stroke-linecap="round" stroke-dashoffset="0.7"/>
<path d="M137.6,372.3 L139.6,370.2 L141.6,368.0 L143.6,366.0 L145.6,363.9 L147.6,362.0 L149.6,360.0 L151.6,358.1 L153.6,356.2 L155.6,354.3 L157.6,352.5 L159.6,350.6 L161.6,348.9 L163.6,347.1 L165.6,345.4 L167.6,343.7 L169.6,342.0 L171.6,340.3 L173.6,338.7 L175.6,337.1 L177.6,335.5 L179.6,333.9 L181.6,332.4 L183.6,330.9 L185.6,329.3 L187.6,327.8 L189.6,326.3 L191.6,324.9 L193.6,323.4 L195.6,322.0 L197.6,320.5 L199.6,319.1 L201.6,317.7 L203.6,316.3 L205.6,314.9 L207.6,313.5 L209.6,312.1 L211.6,310.7 L213.6,309.4 L215.6,308.0 L217.6,306.6 L219.6,305.3 L221.6,303.9 L223.6,302.5 L225.6,301.2 L227.6,299.8 L229.6,298.4 L231.6,297.0 L233.6,295.6 L235.6,294.3 L237.6,292.9 L239.6,291.5 L241.6,290.0 L243.6,288.6 L245.6,287.2 L247.6,285.8 L249.6,284.3 L251.6,282.9 L253.6,281.4 L255.6,279.9 L257.6,278.4 L259.6,277.0 L261.6,275.4 L263.6,273.9 L265.6,272.4 L267.6,270.8 L269.6,269.3 L271.6,267.7 L273.6,266.1 L275.6,264.5 L277.6,262.8 L279.6,261.2 L281.6,259.5 L283.6,257.8 L285.6,256.1 L287.6,254.4 L289.6,252.7 L291.6,250.9 L293.6,249.1 L295.6,247.3 L297.6,245.5 L299.6,243.6 L301.6,241.7 L303.6,239.8 L305.6,237.9 L307.6,235.9 L309.6,234.0 L311.6,232.0 L313.6,230.0 L315.6,227.9 L317.6,225.8 L319.6,223.8 L321.6,221.7 L323.6,219.6 L325.6,217.4 L327.6,215.3 L329.6,213.1 L331.6,210.9 L333.6,208.7 L335.6,206.5 L337.6,204.3 L339.6,202.1 L341.6,199.8 L343.6,197.6 L345.6,195.3 L347.6,193.1 L349.6,190.8 L351.6,188.5 L353.6,186.3 L355.6,184.0 L357.6,181.7 L359.6,179.4 L361.6,177.1 L363.6,174.8 L365.6,172.5 L367.6,170.2 L369.6,167.9 L371.6,165.6 L373.6,163.3 L375.6,161.0 L377.6,158.8 L379.6,156.5 L381.6,154.2 L383.6,152.0 L385.6,149.7 L387.6,147.5 L389.6,145.2 L391.6,143.0 L393.6,140.8 L395.6,138.6 L397.6,136.4 L399.6,134.2 L401.6,132.1 L403.6,129.9 L405.6,127.8 L407.6,125.7 L409.6,123.6 L411.6,121.5 L413.6,119.5 L415.6,117.5 L417.6,115.4 L419.6,113.5 L421.6,111.5 L423.6,109.6 L425.6,107.6 L427.6,105.7 L429.6,103.9 L431.6,102.0 L433.6,100.2 L435.6,98.5 L437.6,96.7 L439.6,95.0 L441.6,93.3 L443.6,91.6 L445.6,90.0 L447.6,88.4 L449.6,86.8 L451.6,85.3 L453.6,83.8 L455.6,82.3 L457.6,80.8 L459.6,79.4 L461.6,78.0 L463.6,76.6 L465.6,75.3 L467.6,74.0 L469.6,72.7 L471.6,71.4 L473.6,70.2 L475.6,69.0 L477.6,67.8 L479.6,66.7 L481.6,65.6 L483.6,64.5 L485.6,63.4 L487.6,62.4 L489.6,61.4 L491.6,60.4 L493.6,59.5 L495.6,58.6 L497.6,57.7 L499.6,56.8 L501.6,56.0 L503.6,55.2 L505.6,54.4 L507.6,53.7 L509.6,53.0 L511.6,52.3 L513.6,51.6 L515.6,51.0 L517.6,50.4 L519.6,49.8 L521.6,49.2 L523.6,48.7 L525.6,48.2 L527.6,47.8 L529.6,47.3 L531.6,46.9 L533.6,46.5 L535.6,46.2 L537.6,45.8 L539.6,45.5 L541.6,45.2 L543.6,45.0 L545.6,44.8 L547.6,44.6 L549.6,44.4 L551.6,44.3 L553.6,44.1 L555.6,44.0 L557.6,44.0 L559.6,43.9 L561.6,43.9 L563.6,44.0 L565.6,44.0 L567.6,44.1 L569.6,44.2 L571.6,44.3 L573.6,44.4 L575.6,44.6 L577.6,44.8 L579.6,45.1 L581.6,45.3 L583.6,45.6 L585.6,45.9 L587.6,46.2 L589.6,46.6 L591.6,47.0 L593.6,47.4 L595.6,47.8 L597.6,48.3 L599.6,48.8 L601.6,49.3 L603.6,49.8 L605.6,50.3 L607.6,50.9 L609.6,51.5 L611.6,52.1 L613.6,52.8 L615.6,53.4 L617.6,54.1 L619.6,54.8 L621.6,55.6 L623.6,56.3 L625.6,57.1 L627.6,57.9 L629.6,58.7 L631.6,59.5 L633.6,60.3 L635.6,61.2 L637.6,62.1 L639.6,62.9 L641.6,63.9 L643.6,64.8 L645.6,65.7 L647.6,66.7 L649.6,67.7 L651.6,68.7 L653.6,69.7 L655.6,70.7 L657.6,71.7 L659.6,72.8 L661.6,73.8 L663.6,74.9 L665.6,76.0 L667.6,77.1 L669.6,78.2 L671.6,79.4 L673.6,80.5 L675.6,81.6 L677.6,82.8 L679.6,84.0 L681.6,85.2 L683.6,86.4 L685.6,87.6 L687.6,88.8 L689.6,90.0 L691.6,91.2 L693.6,92.5 L695.6,93.7 L697.6,95.0 L699.6,96.3 L701.6,97.5 L703.6,98.8 L705.6,100.1 L707.6,101.4 L709.6,102.7 L711.6,104.0 L713.6,105.3 L715.6,106.6 L717.6,107.9 L719.6,109.3 L721.6,110.6 L723.6,111.9 L725.6,113.3 L727.6,114.6 L729.6,115.9 L731.6,117.3 L733.6,118.6 L734.3,119.1" fill="none" stroke="#00cc00" stroke-width="3" stroke-linejoin="round" stroke-dasharray="27 20.95 2.4 20.95" stroke-linecap="round" stroke-dashoffset="0.2"/>
<path d="M137.6,514.9 L139.6,513.4 L141.6,512.0 L143.6,510.5 L145.6,509.1 L147.6,507.6 L149.6,506.1 L151.6,504.7 L153.6,503.2 L155.6,501.7 L157.6,500.2 L159.6,498.7 L161.6,497.2 L163.6,495.7 L165.6,494.2 L167.6,492.7 L169.6,491.2 L171.6,489.7 L173.6,488.1 L175.6,486.6 L177.6,485.1 L179.6,483.5 L181.6,481.9 L183.6,480.4 L185.6,478.8 L187.6,477.2 L189.6,475.6 L191.6,474.0 L193.6,472.4 L195.6,470.7 L197.6,469.1 L199.6,467.4 L201.6,465.8 L203.6,464.1 L205.6,462.4 L207.6,460.7 L209.6,459.0 L211.6,457.3 L213.6,455.6 L215.6,453.8 L217.6,452.1 L219.6,450.3 L221.6,448.5 L223.6,446.7 L225.6,444.9 L227.6,443.1 L229.6,441.2 L231.6,439.4 L233.6,437.5 L235.6,435.6 L237.6,433.7 L239.6,431.8 L241.6,429.8 L243.6,427.9 L245.6,425.9 L247.6,423.9 L249.6,421.9 L251.6,419.9 L253.6,417.9 L255.6,415.8 L257.6,413.7 L259.6,411.6 L261.6,409.5 L263.6,407.4 L265.6,405.2 L267.6,403.0 L269.6,400.9 L271.6,398.6 L273.6,396.4 L275.6,394.1 L277.6,391.9 L279.6,389.6 L281.6,387.3 L283.6,384.9 L285.6,382.6 L287.6,380.2 L289.6,377.8 L291.6,375.4 L293.6,372.9 L295.6,370.5 L297.6,368.0 L299.6,365.6 L301.6,363.1 L303.6,360.6 L305.6,358.1 L307.6,355.6 L309.6,353.1 L311.6,350.6 L313.6,348.0 L315.6,345.5 L317.6,343.0 L319.6,340.5 L321.6,338.0 L323.6,335.4 L325.6,332.9 L327.6,330.4 L329.6,327.9 L331.6,325.4 L333.6,322.9 L335.6,320.5 L337.6,318.0 L339.6,315.6 L341.6,313.1 L343.6,310.7 L345.6,308.3 L347.6,305.9 L349.6,303.5 L351.6,301.2 L353.6,298.8 L355.6,296.5 L357.6,294.2 L359.6,291.9 L361.6,289.7 L363.6,287.4 L365.6,285.2 L367.6,283.0 L369.6,280.8 L371.6,278.7 L373.6,276.5 L375.6,274.4 L377.6,272.4 L379.6,270.3 L381.6,268.3 L383.6,266.3 L385.6,264.3 L387.6,262.4 L389.6,260.5 L391.6,258.6 L393.6,256.8 L395.6,255.0 L397.6,253.2 L399.6,251.5 L401.6,249.8 L403.6,248.1 L405.6,246.4 L407.6,244.8 L409.6,243.3 L411.6,241.7 L413.6,240.2 L415.6,238.8 L417.6,237.3 L419.6,236.0 L421.6,234.6 L423.6,233.3 L425.6,232.0 L427.6,230.7 L429.6,229.5 L431.6,228.3 L433.6,227.2 L435.6,226.1 L437.6,225.0 L439.6,223.9 L441.6,222.9 L443.6,221.9 L445.6,220.9 L447.6,220.0 L449.6,219.1 L451.6,218.3 L453.6,217.4 L455.6,216.6 L457.6,215.9 L459.6,215.1 L461.6,214.4 L463.6,213.8 L465.6,213.1 L467.6,212.5 L469.6,211.9 L471.6,211.4 L473.6,210.8 L475.6,210.3 L477.6,209.9 L479.6,209.4 L481.6,209.0 L483.6,208.7 L485.6,208.3 L487.6,208.0 L489.6,207.7 L491.6,207.4 L493.6,207.2 L495.6,207.0 L497.6,206.8 L499.6,206.6 L501.6,206.5 L503.6,206.4 L505.6,206.3 L507.6,206.3 L509.6,206.2 L511.6,206.2 L513.6,206.3 L515.6,206.3 L517.6,206.4 L519.6,206.5 L521.6,206.6 L523.6,206.8 L525.6,207.0 L527.6,207.2 L529.6,207.4 L531.6,207.6 L533.6,207.9 L535.6,208.2 L537.6,208.5 L539.6,208.9 L541.6,209.3 L543.6,209.6 L545.6,210.1 L547.6,210.5 L549.6,211.0 L551.6,211.4 L553.6,211.9 L555.6,212.5 L557.6,213.0 L559.6,213.6 L561.6,214.2 L563.6,214.8 L565.6,215.4 L567.6,216.0 L569.6,216.7 L571.6,217.4 L573.6,218.1 L575.6,218.8 L577.6,219.6 L579.6,220.4 L581.6,221.2 L583.6,222.0 L585.6,222.8 L587.6,223.6 L589.6,224.5 L591.6,225.4 L593.6,226.3 L595.6,227.2 L597.6,228.1 L599.6,229.1 L601.6,230.0 L603.6,231.0 L605.6,232.0 L607.6,233.1 L609.6,234.1 L611.6,235.1 L613.6,236.2 L615.6,237.3 L617.6,238.4 L619.6,239.5 L621.6,240.6 L623.6,241.8 L625.6,243.0 L627.6,244.1 L629.6,245.3 L631.6,246.5 L633.6,247.7 L635.6,249.0 L637.6,250.2 L639.6,251.5 L641.6,252.8 L643.6,254.0 L645.6,255.3 L647.6,256.7 L649.6,258.0 L651.6,259.3 L653.6,260.7 L655.6,262.0 L657.6,263.4 L659.6,264.8 L661.6,266.2 L663.6,267.6 L665.6,269.0 L667.6,270.5 L669.6,271.9 L671.6,273.3 L673.6,274.8 L675.6,276.3 L677.6,277.8 L679.6,279.3 L681.6,280.8 L683.6,282.3 L685.6,283.8 L687.6,285.3 L689.6,286.8 L691.6,288.4 L693.6,289.9 L695.6,291.5 L697.6,293.1 L699.6,294.7 L701.6,296.2 L703.6,297.8 L705.6,299.4 L707.6,301.0 L709.6,302.7 L711.6,304.3 L713.6,305.9 L715.6,307.5 L717.6,309.2 L719.6,310.8 L721.6,312.5 L723.6,314.1 L725.6,315.8 L727.6,317.5 L729.6,319.1 L731.6,320.8 L733.6,322.5 L735.6,324.2 L737.6,325.9 L739.6,327.6 L741.5,329.2" fill="none" stroke="#00cc00" stroke-width="3" stroke-linejoin="round" stroke-dasharray="27 20.95 2.4 20.95" stroke-linecap="round" stroke-dashoffset="0.2"/>
</g>
<path d="M182.7,488.4V514.4M178.2,488.4H187.2M178.2,514.4H187.2" stroke="#222" stroke-width="1" fill="none"/>
<path d="M207.8,453.2V467.2M203.3,453.2H212.3M203.3,467.2H212.3" stroke="#222" stroke-width="1" fill="none"/>
<path d="M232.9,418.6V437.6M228.4,418.6H237.4M228.4,437.6H237.4" stroke="#222" stroke-width="1" fill="none"/>
<path d="M258.0,401.0V417.0M253.5,401.0H262.5M253.5,417.0H262.5" stroke="#222" stroke-width="1" fill="none"/>
<path d="M283.1,372.4V386.4M278.6,372.4H287.6M278.6,386.4H287.6" stroke="#222" stroke-width="1" fill="none"/>
<path d="M308.2,332.0V346.4M303.7,332.0H312.7M303.7,346.4H312.7" stroke="#222" stroke-width="1" fill="none"/>
<path d="M333.3,302.2V316.0M328.8,302.2H337.8M328.8,316.0H337.8" stroke="#222" stroke-width="1" fill="none"/>
<path d="M358.4,278.3V289.7M353.9,278.3H362.9M353.9,289.7H362.9" stroke="#222" stroke-width="1" fill="none"/>
<path d="M383.5,260.8V269.8M379.0,260.8H388.0M379.0,269.8H388.0" stroke="#222" stroke-width="1" fill="none"/>
<path d="M408.6,241.2V249.2M404.1,241.2H413.1M404.1,249.2H413.1" stroke="#222" stroke-width="1" fill="none"/>
<path d="M433.7,227.3V234.3M429.2,227.3H438.2M429.2,234.3H438.2" stroke="#222" stroke-width="1" fill="none"/>
<path d="M458.8,217.5V223.5M454.3,217.5H463.3M454.3,223.5H463.3" stroke="#222" stroke-width="1" fill="none"/>
<path d="M483.9,210.7V216.7M479.4,210.7H488.4M479.4,216.7H488.4" stroke="#222" stroke-width="1" fill="none"/>
<path d="M509.0,208.1V214.1M504.5,208.1H513.5M504.5,214.1H513.5" stroke="#222" stroke-width="1" fill="none"/>
<path d="M534.1,209.1V215.1M529.6,209.1H538.6M529.6,215.1H538.6" stroke="#222" stroke-width="1" fill="none"/>
<path d="M559.2,212.7V218.7M554.7,212.7H563.7M554.7,218.7H563.7" stroke="#222" stroke-width="1" fill="none"/>
<path d="M584.3,219.6V224.6M579.8,219.6H588.8M579.8,224.6H588.8" stroke="#222" stroke-width="1" fill="none"/>
<path d="M609.4,229.7V234.7M604.9,229.7H613.9M604.9,234.7H613.9" stroke="#222" stroke-width="1" fill="none"/>
<path d="M634.5,243.4V247.4M630.0,243.4H639.0M630.0,247.4H639.0" stroke="#222" stroke-width="1" fill="none"/>
<path d="M182.7,332.6V358.2M178.2,332.6H187.2M178.2,358.2H187.2" stroke="#222" stroke-width="1" fill="none"/>
<path d="M232.9,278.4V301.8M228.4,278.4H237.4M228.4,301.8H237.4" stroke="#222" stroke-width="1" fill="none"/>
<path d="M258.0,253.0V267.4M253.5,253.0H262.5M253.5,267.4H262.5" stroke="#222" stroke-width="1" fill="none"/>
<path d="M308.2,206.0V222.6M303.7,206.0H312.7M303.7,222.6H312.7" stroke="#222" stroke-width="1" fill="none"/>
<path d="M333.3,187.3V201.9M328.8,187.3H337.8M328.8,201.9H337.8" stroke="#222" stroke-width="1" fill="none"/>
<path d="M358.4,151.3V164.7M353.9,151.3H362.9M353.9,164.7H362.9" stroke="#222" stroke-width="1" fill="none"/>
<path d="M383.5,126.0V136.0M379.0,126.0H388.0M379.0,136.0H388.0" stroke="#222" stroke-width="1" fill="none"/>
<path d="M408.6,109.9V118.9M404.1,109.9H413.1M404.1,118.9H413.1" stroke="#222" stroke-width="1" fill="none"/>
<path d="M433.7,84.3V92.3M429.2,84.3H438.2M429.2,92.3H438.2" stroke="#222" stroke-width="1" fill="none"/>
<path d="M458.8,64.7V71.7M454.3,64.7H463.3M454.3,71.7H463.3" stroke="#222" stroke-width="1" fill="none"/>
<path d="M483.9,51.1V57.1M479.4,51.1H488.4M479.4,57.1H488.4" stroke="#222" stroke-width="1" fill="none"/>
<path d="M509.0,42.1V48.1M504.5,42.1H513.5M504.5,48.1H513.5" stroke="#222" stroke-width="1" fill="none"/>
<path d="M534.1,34.4V40.4M529.6,34.4H538.6M529.6,40.4H538.6" stroke="#222" stroke-width="1" fill="none"/>
<path d="M559.2,32.1V38.1M554.7,32.1H563.7M554.7,38.1H563.7" stroke="#222" stroke-width="1" fill="none"/>
<path d="M584.3,33.1V39.1M579.8,33.1H588.8M579.8,39.1H588.8" stroke="#222" stroke-width="1" fill="none"/>
<path d="M609.4,38.6V43.6M604.9,38.6H613.9M604.9,43.6H613.9" stroke="#222" stroke-width="1" fill="none"/>
<path d="M634.5,46.7V51.7M630.0,46.7H639.0M630.0,51.7H639.0" stroke="#222" stroke-width="1" fill="none"/>
<path d="M659.6,57.8V61.8M655.1,57.8H664.1M655.1,61.8H664.1" stroke="#222" stroke-width="1" fill="none"/>
<path d="M760.0,159.8V163.8M755.5,159.8H764.5M755.5,163.8H764.5" stroke="#222" stroke-width="1" fill="none"/>
<path d="M785.1,206.9V213.5M780.6,206.9H789.6M780.6,213.5H789.6" stroke="#222" stroke-width="1" fill="none"/>
<path d="M810.2,268.6V276.4M805.7,268.6H814.7M805.7,276.4H814.7" stroke="#222" stroke-width="1" fill="none"/>
<path d="M182.7,494.3 Q185.3,497.9 188.0,501.4 Q185.3,504.9 182.7,508.4 Q180.1,504.9 177.4,501.4 Q180.1,497.9 182.7,494.3Z" fill="#000"/>
<path d="M207.8,453.1 Q210.4,456.7 213.1,460.2 Q210.4,463.7 207.8,467.2 Q205.2,463.7 202.5,460.2 Q205.2,456.7 207.8,453.1Z" fill="#000"/>
<path d="M232.9,421.1 Q235.5,424.6 238.2,428.1 Q235.5,431.6 232.9,435.2 Q230.3,431.6 227.6,428.1 Q230.3,424.6 232.9,421.1Z" fill="#000"/>
<path d="M258.0,401.9 Q260.6,405.5 263.3,409.0 Q260.6,412.5 258.0,416.1 Q255.4,412.5 252.7,409.0 Q255.4,405.5 258.0,401.9Z" fill="#000"/>
<path d="M283.1,372.3 Q285.7,375.9 288.4,379.4 Q285.7,382.9 283.1,386.4 Q280.5,382.9 277.8,379.4 Q280.5,375.9 283.1,372.3Z" fill="#000"/>
<path d="M308.2,332.1 Q310.8,335.7 313.5,339.2 Q310.8,342.7 308.2,346.2 Q305.6,342.7 302.9,339.2 Q305.6,335.7 308.2,332.1Z" fill="#000"/>
<path d="M333.3,302.1 Q335.9,305.6 338.6,309.1 Q335.9,312.6 333.3,316.2 Q330.7,312.6 328.0,309.1 Q330.7,305.6 333.3,302.1Z" fill="#000"/>
<path d="M358.4,276.9 Q361.0,280.5 363.7,284.0 Q361.0,287.5 358.4,291.1 Q355.8,287.5 353.1,284.0 Q355.8,280.5 358.4,276.9Z" fill="#000"/>
<path d="M383.5,258.2 Q386.1,261.8 388.8,265.3 Q386.1,268.8 383.5,272.4 Q380.9,268.8 378.2,265.3 Q380.9,261.8 383.5,258.2Z" fill="#000"/>
<path d="M408.6,238.1 Q411.2,241.7 413.9,245.2 Q411.2,248.7 408.6,252.2 Q406.0,248.7 403.3,245.2 Q406.0,241.7 408.6,238.1Z" fill="#000"/>
<path d="M433.7,223.8 Q436.3,227.3 439.0,230.8 Q436.3,234.3 433.7,237.9 Q431.1,234.3 428.4,230.8 Q431.1,227.3 433.7,223.8Z" fill="#000"/>
<path d="M458.8,213.4 Q461.4,217.0 464.1,220.5 Q461.4,224.0 458.8,227.6 Q456.2,224.0 453.5,220.5 Q456.2,217.0 458.8,213.4Z" fill="#000"/>
<path d="M483.9,206.6 Q486.5,210.2 489.2,213.7 Q486.5,217.2 483.9,220.8 Q481.3,217.2 478.6,213.7 Q481.3,210.2 483.9,206.6Z" fill="#000"/>
<path d="M509.0,204.0 Q511.6,207.6 514.3,211.1 Q511.6,214.6 509.0,218.2 Q506.4,214.6 503.7,211.1 Q506.4,207.6 509.0,204.0Z" fill="#000"/>
<path d="M534.1,205.0 Q536.7,208.6 539.4,212.1 Q536.7,215.6 534.1,219.2 Q531.5,215.6 528.8,212.1 Q531.5,208.6 534.1,205.0Z" fill="#000"/>
<path d="M559.2,208.6 Q561.8,212.2 564.5,215.7 Q561.8,219.2 559.2,222.8 Q556.6,219.2 553.9,215.7 Q556.6,212.2 559.2,208.6Z" fill="#000"/>
<path d="M584.3,215.0 Q586.9,218.6 589.6,222.1 Q586.9,225.6 584.3,229.2 Q581.7,225.6 579.0,222.1 Q581.7,218.6 584.3,215.0Z" fill="#000"/>
<path d="M609.4,225.1 Q612.0,228.7 614.7,232.2 Q612.0,235.7 609.4,239.2 Q606.8,235.7 604.1,232.2 Q606.8,228.7 609.4,225.1Z" fill="#000"/>
<path d="M634.5,238.3 Q637.1,241.9 639.8,245.4 Q637.1,248.9 634.5,252.5 Q631.9,248.9 629.2,245.4 Q631.9,241.9 634.5,238.3Z" fill="#000"/>
<path d="M659.6,256.1 Q662.2,259.7 664.9,263.2 Q662.2,266.7 659.6,270.2 Q657.0,266.7 654.3,263.2 Q657.0,259.7 659.6,256.1Z" fill="#000"/>
<path d="M684.7,278.8 Q687.3,282.4 690.0,285.9 Q687.3,289.4 684.7,292.9 Q682.1,289.4 679.4,285.9 Q682.1,282.4 684.7,278.8Z" fill="#000"/>
<path d="M709.8,307.6 Q712.4,311.2 715.1,314.7 Q712.4,318.2 709.8,321.8 Q707.2,318.2 704.5,314.7 Q707.2,311.2 709.8,307.6Z" fill="#000"/>
<path d="M734.9,342.8 Q737.5,346.4 740.2,349.9 Q737.5,353.4 734.9,356.9 Q732.3,353.4 729.6,349.9 Q732.3,346.4 734.9,342.8Z" fill="#000"/>
<path d="M760.0,378.4 Q762.6,382.0 765.3,385.5 Q762.6,389.0 760.0,392.6 Q757.4,389.0 754.7,385.5 Q757.4,382.0 760.0,378.4Z" fill="#000"/>
<path d="M785.1,388.9 Q787.7,392.5 790.4,396.0 Q787.7,399.5 785.1,403.1 Q782.5,399.5 779.8,396.0 Q782.5,392.5 785.1,388.9Z" fill="#000"/>
<path d="M182.7,338.3 Q185.3,341.9 188.0,345.4 Q185.3,348.9 182.7,352.4 Q180.1,348.9 177.4,345.4 Q180.1,341.9 182.7,338.3Z" fill="#000"/>
<path d="M232.9,283.1 Q235.5,286.6 238.2,290.1 Q235.5,293.6 232.9,297.2 Q230.3,293.6 227.6,290.1 Q230.3,286.6 232.9,283.1Z" fill="#000"/>
<path d="M258.0,253.1 Q260.6,256.7 263.3,260.2 Q260.6,263.7 258.0,267.2 Q255.4,263.7 252.7,260.2 Q255.4,256.7 258.0,253.1Z" fill="#000"/>
<path d="M308.2,207.2 Q310.8,210.8 313.5,214.3 Q310.8,217.8 308.2,221.4 Q305.6,217.8 302.9,214.3 Q305.6,210.8 308.2,207.2Z" fill="#000"/>
<path d="M333.3,187.5 Q335.9,191.1 338.6,194.6 Q335.9,198.1 333.3,201.7 Q330.7,198.1 328.0,194.6 Q330.7,191.1 333.3,187.5Z" fill="#000"/>
<path d="M358.4,150.9 Q361.0,154.5 363.7,158.0 Q361.0,161.5 358.4,165.1 Q355.8,161.5 353.1,158.0 Q355.8,154.5 358.4,150.9Z" fill="#000"/>
<path d="M383.5,124.0 Q386.1,127.5 388.8,131.0 Q386.1,134.5 383.5,138.1 Q380.9,134.5 378.2,131.0 Q380.9,127.5 383.5,124.0Z" fill="#000"/>
<path d="M408.6,107.4 Q411.2,110.9 413.9,114.4 Q411.2,117.9 408.6,121.5 Q406.0,117.9 403.3,114.4 Q406.0,110.9 408.6,107.4Z" fill="#000"/>
<path d="M433.7,81.2 Q436.3,84.8 439.0,88.3 Q436.3,91.8 433.7,95.3 Q431.1,91.8 428.4,88.3 Q431.1,84.8 433.7,81.2Z" fill="#000"/>
<path d="M458.8,61.2 Q461.4,64.7 464.1,68.2 Q461.4,71.7 458.8,75.2 Q456.2,71.7 453.5,68.2 Q456.2,64.7 458.8,61.2Z" fill="#000"/>
<path d="M483.9,47.1 Q486.5,50.6 489.2,54.1 Q486.5,57.6 483.9,61.1 Q481.3,57.6 478.6,54.1 Q481.3,50.6 483.9,47.1Z" fill="#000"/>
<path d="M509.0,38.1 Q511.6,41.6 514.3,45.1 Q511.6,48.6 509.0,52.1 Q506.4,48.6 503.7,45.1 Q506.4,41.6 509.0,38.1Z" fill="#000"/>
<path d="M534.1,30.3 Q536.7,33.9 539.4,37.4 Q536.7,40.9 534.1,44.4 Q531.5,40.9 528.8,37.4 Q531.5,33.9 534.1,30.3Z" fill="#000"/>
<path d="M559.2,28.1 Q561.8,31.6 564.5,35.1 Q561.8,38.6 559.2,42.1 Q556.6,38.6 553.9,35.1 Q556.6,31.6 559.2,28.1Z" fill="#000"/>
<path d="M584.3,29.1 Q586.9,32.6 589.6,36.1 Q586.9,39.6 584.3,43.1 Q581.7,39.6 579.0,36.1 Q581.7,32.6 584.3,29.1Z" fill="#000"/>
<path d="M609.4,34.1 Q612.0,37.6 614.7,41.1 Q612.0,44.6 609.4,48.1 Q606.8,44.6 604.1,41.1 Q606.8,37.6 609.4,34.1Z" fill="#000"/>
<path d="M634.5,42.2 Q637.1,45.7 639.8,49.2 Q637.1,52.7 634.5,56.2 Q631.9,52.7 629.2,49.2 Q631.9,45.7 634.5,42.2Z" fill="#000"/>
<path d="M659.6,52.8 Q662.2,56.3 664.9,59.8 Q662.2,63.3 659.6,66.8 Q657.0,63.3 654.3,59.8 Q657.0,56.3 659.6,52.8Z" fill="#000"/>
<path d="M684.7,68.8 Q687.3,72.3 690.0,75.8 Q687.3,79.3 684.7,82.8 Q682.1,79.3 679.4,75.8 Q682.1,72.3 684.7,68.8Z" fill="#000"/>
<path d="M709.8,90.2 Q712.4,93.7 715.1,97.2 Q712.4,100.7 709.8,104.2 Q707.2,100.7 704.5,97.2 Q707.2,93.7 709.8,90.2Z" fill="#000"/>
<path d="M734.9,118.2 Q737.5,121.8 740.2,125.3 Q737.5,128.8 734.9,132.3 Q732.3,128.8 729.6,125.3 Q732.3,121.8 734.9,118.2Z" fill="#000"/>
<path d="M760.0,154.8 Q762.6,158.3 765.3,161.8 Q762.6,165.3 760.0,168.9 Q757.4,165.3 754.7,161.8 Q757.4,158.3 760.0,154.8Z" fill="#000"/>
<path d="M785.1,203.1 Q787.7,206.7 790.4,210.2 Q787.7,213.7 785.1,217.2 Q782.5,213.7 779.8,210.2 Q782.5,206.7 785.1,203.1Z" fill="#000"/>
<path d="M810.2,265.4 Q812.8,269.0 815.5,272.5 Q812.8,276.0 810.2,279.6 Q807.6,276.0 804.9,272.5 Q807.6,269.0 810.2,265.4Z" fill="#000"/>
<path d="M179.99,524.9v-4.0M216.93,524.9v-4.0M243.13,524.9v-4.0M263.46,524.9v-4.0M280.07,524.9v-4.0M294.11,524.9v-4.0M306.27,524.9v-4.0M317.00,524.9v-4.0M326.60,524.9v-10.7M389.74,524.9v-4.0M426.68,524.9v-4.0M452.88,524.9v-4.0M473.21,524.9v-4.0M489.82,524.9v-4.0M503.86,524.9v-4.0M516.02,524.9v-4.0M526.75,524.9v-4.0M536.35,524.9v-10.7M599.49,524.9v-4.0M636.43,524.9v-4.0M662.63,524.9v-4.0M682.96,524.9v-4.0M699.57,524.9v-4.0M713.61,524.9v-4.0M725.77,524.9v-4.0M736.50,524.9v-4.0M746.10,524.9v-10.7M809.24,524.9v-4.0M137.5,502.64h4.0M137.5,483.58h4.0M137.5,467.06h4.0M137.5,452.49h4.0M137.5,439.46h10.7M137.5,353.73h4.0M137.5,303.58h4.0M137.5,267.99h4.0M137.5,240.39h4.0M137.5,217.84h4.0M137.5,198.78h4.0M137.5,182.26h4.0M137.5,167.69h4.0M137.5,154.66h10.7M137.5,68.93h4.0M137.5,18.78h4.0M158.80,5.5v2.6M179.77,5.5v2.6M200.75,5.5v2.6M221.73,5.5v4.5M242.70,5.5v2.6M263.68,5.5v2.6M284.65,5.5v2.6M305.62,5.5v2.6M326.60,5.5v4.5M347.58,5.5v2.6M368.55,5.5v2.6M389.52,5.5v2.6M410.50,5.5v2.6M431.48,5.5v4.5M452.45,5.5v2.6M473.43,5.5v2.6M494.40,5.5v2.6M515.38,5.5v2.6M536.35,5.5v4.5M557.32,5.5v2.6M578.30,5.5v2.6M599.27,5.5v2.6M620.25,5.5v2.6M641.23,5.5v4.5M662.20,5.5v2.6M683.18,5.5v2.6M704.15,5.5v2.6M725.13,5.5v2.6M746.10,5.5v4.5M767.07,5.5v2.6M788.05,5.5v2.6M809.02,5.5v2.6M829.65,510.66h-4.4M829.65,496.42h-2.1M829.65,482.18h-2.1M829.65,467.94h-2.1M829.65,453.70h-2.1M829.65,439.46h-4.4M829.65,425.22h-2.1M829.65,410.98h-2.1M829.65,396.74h-2.1M829.65,382.50h-2.1M829.65,368.26h-4.4M829.65,354.02h-2.1M829.65,339.78h-2.1M829.65,325.54h-2.1M829.65,311.30h-2.1M829.65,297.06h-4.4M829.65,282.82h-2.1M829.65,268.58h-2.1M829.65,254.34h-2.1M829.65,240.10h-2.1M829.65,225.86h-4.4M829.65,211.62h-2.1M829.65,197.38h-2.1M829.65,183.14h-2.1M829.65,168.90h-2.1M829.65,154.66h-4.4M829.65,140.42h-2.1M829.65,126.18h-2.1M829.65,111.94h-2.1M829.65,97.70h-2.1M829.65,83.46h-4.4M829.65,69.22h-2.1M829.65,54.98h-2.1M829.65,40.74h-2.1M829.65,26.50h-2.1M829.65,12.26h-4.4" stroke="#1a1a1a" stroke-width="1" fill="none"/>
<path d="M137.5,5.5H829.65V525.0H137.5Z" stroke="#1a1a1a" stroke-width="1" fill="none"/>
<g opacity="0.999" fill="#000">
<text x="90.20" y="167.56" font-family="Liberation Serif, serif" font-size="35.5" text-anchor="end">10</text>
<text x="89.60" y="153.56" font-family="Liberation Serif, serif" font-size="24.8" text-anchor="start">−</text>
<text x="103.59" y="151.96" font-family="Liberation Serif, serif" font-size="24.8" text-anchor="start">2</text>
<text x="90.20" y="452.36" font-family="Liberation Serif, serif" font-size="35.5" text-anchor="end">10</text>
<text x="89.60" y="438.36" font-family="Liberation Serif, serif" font-size="24.8" text-anchor="start">−</text>
<text x="103.59" y="436.76" font-family="Liberation Serif, serif" font-size="24.8" text-anchor="start">3</text>
<text x="336.40" y="570.50" font-family="Liberation Serif, serif" font-size="35.5" text-anchor="end">10</text>
<text x="335.80" y="554.90" font-family="Liberation Serif, serif" font-size="24.8" text-anchor="start">3</text>
<text x="546.15" y="570.50" font-family="Liberation Serif, serif" font-size="35.5" text-anchor="end">10</text>
<text x="545.55" y="554.90" font-family="Liberation Serif, serif" font-size="24.8" text-anchor="start">4</text>
<text x="755.90" y="570.50" font-family="Liberation Serif, serif" font-size="35.5" text-anchor="end">10</text>
<text x="755.30" y="554.90" font-family="Liberation Serif, serif" font-size="24.8" text-anchor="start">5</text>
<text x="271.85" y="144.60" font-family="Liberation Serif, serif" font-size="33.2" text-anchor="start" font-style="italic">z</text>
<text x="294.52" y="147.80" font-family="Liberation Serif, serif" font-size="35.5" text-anchor="start">=</text>
<text x="324.37" y="144.60" font-family="Liberation Serif, serif" font-size="35.5" text-anchor="start">2</text>
<text x="395.45" y="324.00" font-family="Liberation Serif, serif" font-size="33.2" text-anchor="start" font-style="italic">z</text>
<text x="417.87" y="327.20" font-family="Liberation Serif, serif" font-size="35.5" text-anchor="start">=</text>
<text x="447.53" y="324.00" font-family="Liberation Serif, serif" font-size="35.5" text-anchor="start">1</text>
<text x="476.00" y="606.50" font-family="Liberation Serif, serif" font-size="35.5" text-anchor="start" font-style="italic">ℓ</text>
<g transform="translate(34.1,0) rotate(-90)" font-family="Liberation Serif, serif">
<text x="-332.83" y="0.00" font-size="35.5">2</text>
<text x="-316.05" y="0.00" font-size="35.5" font-style="italic">π</text>
<text x="-298.12" y="0.00" font-size="35.5" font-style="italic">ℓ</text>
<text x="-284.46" y="-14.30" font-size="24.8">2</text>
<text x="-267.80" y="0.00" font-size="35.5" font-style="italic">P</text>
<text x="-247.84" y="5.40" font-size="24.8" font-style="italic">κ</text>
<text x="-232.87" y="0.00" font-size="35.5">(</text>
<text x="-222.77" y="0.00" font-size="35.5" font-style="italic">ℓ</text>
<text x="-209.00" y="0.00" font-size="35.5">)</text>
</g>
</g>
</svg>
</body></html>
